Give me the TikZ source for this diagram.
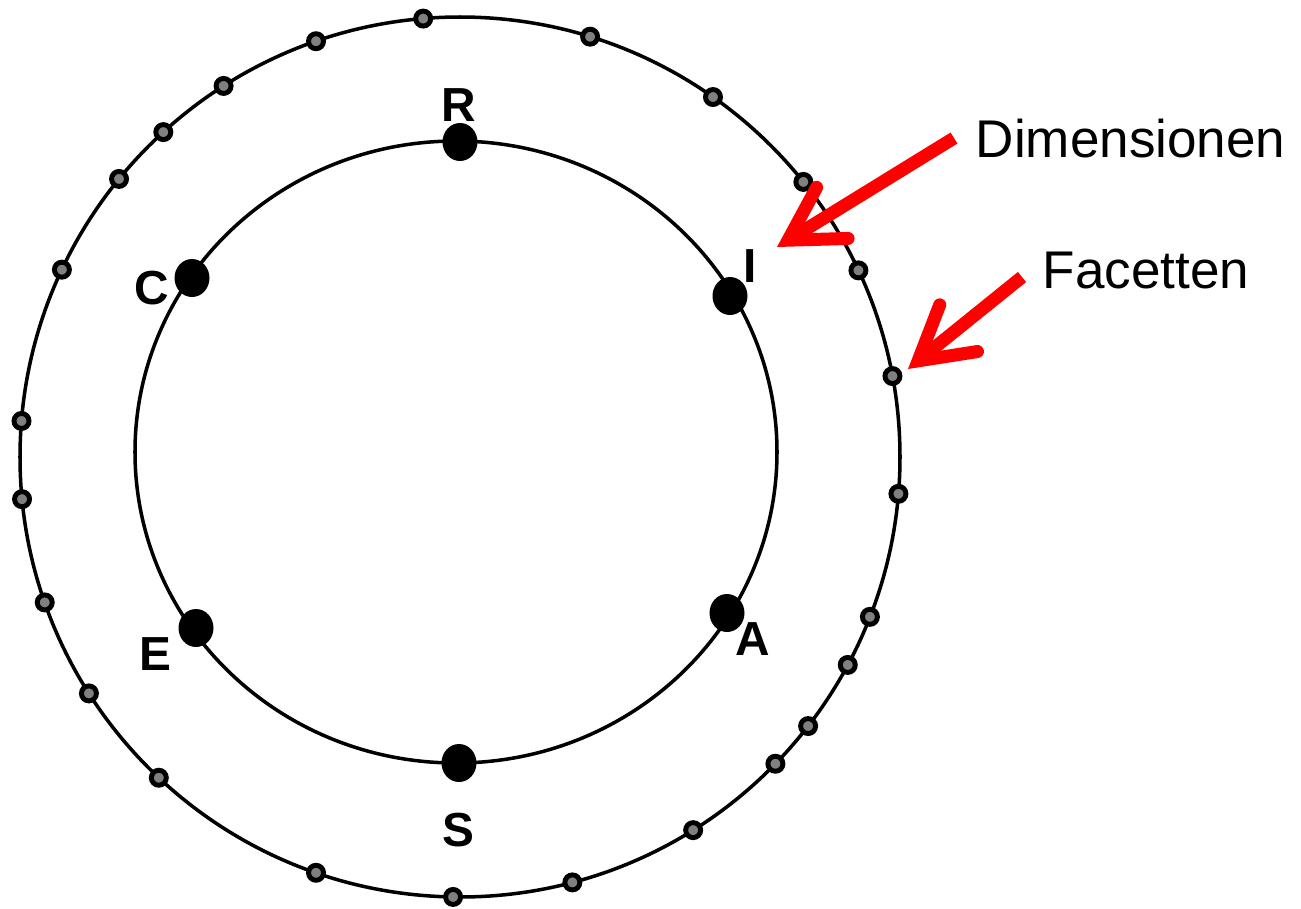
\documentclass[tikz,border=0pt]{standalone}
\usepackage{fontspec}
\setmainfont{Liberation Sans}
\usetikzlibrary{arrows.meta,shapes.geometric}

\begin{document}
\begin{tikzpicture}[line width=1pt,
  every node/.style={inner sep=0pt},
  dimpunkt/.style={ellipse, fill=black, minimum width=0.35cm, minimum height=0.38cm},
  facette/.style={circle, draw=black, fill=gray, line width=1.4pt, minimum size=0.15cm},
  buchst/.style={font=\fontsize{13.6}{16}\selectfont\bfseries},
  beschr/.style={font=\fontsize{15.1}{18}\selectfont, anchor=base west},
  pfeil/.style={red, line width=3.7pt, -{Straight Barb[length=0.52cm, width=0.6cm, line cap=round]}}]
  \useasboundingbox (0,0) rectangle (13.01,9.08);

  % Kreise
  \coordinate (O) at (4.60,4.51);
  \coordinate (M) at (4.56,4.56);
  \draw (O) circle (4.40);
  \draw (M) ellipse (3.21 and 3.11);

  % Facetten auf dem aeusseren Kreis
  \foreach \a [count=\i] in {94.8,109.1,122.5,132.4,140.8,154.8,175.3,185.5,199.3,212.5,
      226.8,250.9,269.1,284.8,302.0,315.8,322.3,331.8,338.7,355.2,10.6,25.1,38.7,54.9,72.8}
    \node[facette] (f\i) at ([shift={(\a:4.40)}]O) {};

  % Dimensionen auf dem inneren Kreis
  \node[dimpunkt] (dR) at (4.60,7.66) {};
  \node[dimpunkt] (dI) at (7.30,6.12) {};
  \node[dimpunkt] (dA) at (7.27,2.95) {};
  \node[dimpunkt] (dS) at (4.59,1.45) {};
  \node[dimpunkt] (dE) at (1.96,2.80) {};
  \node[dimpunkt] (dC) at (1.92,6.30) {};

  % Buchstaben
  \node[buchst] (lR) at (4.59,8.03) {R};
  \node[buchst] (lI) at (7.50,6.42) {I};
  \node[buchst] (lA) at (7.53,2.69) {A};
  \node[buchst] (lS) at (4.58,0.78) {S};
  \node[buchst] (lE) at (1.55,2.54) {E};
  \node[buchst] (lC) at (1.52,6.20) {C};

  % Beschriftung rechts
  \node[beschr] (tDim) at (9.74,7.51) {Dimensionen};
  \node[beschr] (tFac) at (10.41,6.20) {Facetten};

  % Pfeile
  \coordinate (dimSpitze) at (7.77,6.61);
  \coordinate (facSpitze) at (9.08,5.39);
  \draw[pfeil] ([xshift=-2mm]tDim.west) -- (dimSpitze);
  \draw[pfeil] ([shift={(-0.19,-0.07)}]tFac.west) -- (facSpitze);
\end{tikzpicture}
\end{document}
